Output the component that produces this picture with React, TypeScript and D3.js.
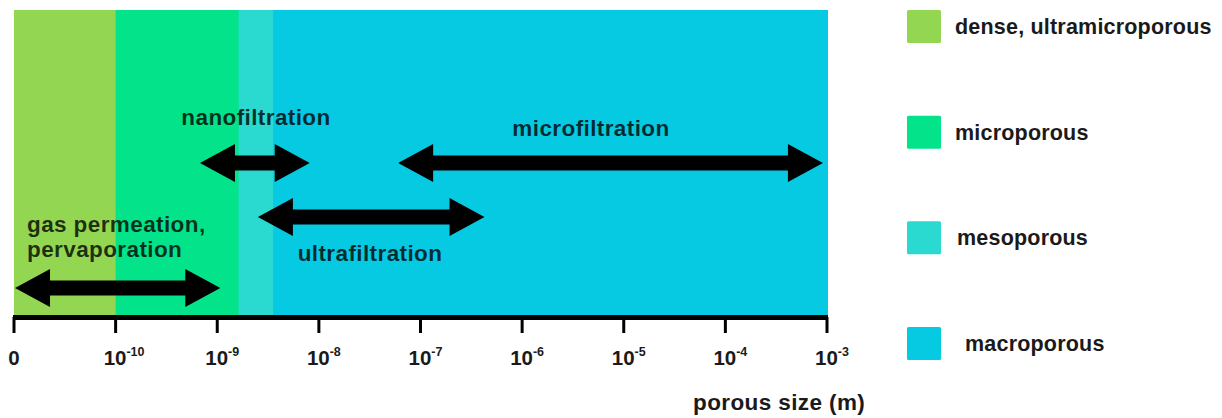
import React from "react";
import * as d3 from "d3";

// pore classes, as exponent of size in metres (-11 stands for "0")
const classNames = ["dense, ultramicroporous", "microporous", "mesoporous", "macroporous"];
const classStart = [-11, -10, -8.79, -8.45];
const classEnd = [-10, -8.79, -8.45, -3];
const classColors = ["#93d651", "#02e38a", "#2ad9cf", "#06c9e2"];

// separation processes
const processNames = ["gas permeation,|pervaporation", "nanofiltration", "ultrafiltration", "microfiltration"];
const processFrom = [-10.99, -9.17, -8.6, -7.22];
const processTo = [-8.97, -8.09, -6.37, -3.04];
const processRow = [3, 1, 2, 1];

// axis ticks
const tickValues = [-11, -10, -9, -8, -7, -6, -5, -4, -3];
const tickLabels = ["0", "-10", "-9", "-8", "-7", "-6", "-5", "-4", "-3"];

const W = 1222;
const H = 418;
const plot = { left: 13, right: 828, top: 10, bottom: 315 };

const font = "'Liberation Sans', Arial, sans-serif";

function arrowPath(x0: number, x1: number, y: number) {
  const hl = 35; // head length
  const hh = 19; // head half height
  const sh = 7.5; // shaft half height
  const p = d3.path();
  p.moveTo(x0, y);
  p.lineTo(x0 + hl, y - hh);
  p.lineTo(x0 + hl, y - sh);
  p.lineTo(x1 - hl, y - sh);
  p.lineTo(x1 - hl, y - hh);
  p.lineTo(x1, y);
  p.lineTo(x1 - hl, y + hh);
  p.lineTo(x1 - hl, y + sh);
  p.lineTo(x0 + hl, y + sh);
  p.lineTo(x0 + hl, y + hh);
  p.closePath();
  return p.toString();
}

const App = () => {
  const x = d3.scaleLinear().domain([-11, -3]).range([14, 827]);
  // arrow rows
  const rowY = d3.scaleOrdinal<number, number>().domain([1, 2, 3]).range([163, 217, 288]);
  // label placement for each process
  const labelPos = [
    { x: 27, y: 232, anchor: "start" },
    { x: 256, y: 125, anchor: "middle" },
    { x: 370, y: 261, anchor: "middle" },
    { x: 591, y: 136, anchor: "middle" },
  ];
  const legendY = d3.scaleLinear().domain([0, 3]).range([10, 327]);
  const legendDx = [0, 0, 2, 10];

  return (
    <svg
      width={W}
      height={H}
      style={{ position: "absolute", left: 0, top: 0, background: "#fff" }}
      fontFamily={font}
      fontWeight="bold"
    >
      {/* pore class bands */}
      {classNames.map((n, i) => (
        <rect
          key={n}
          x={Math.max(plot.left, x(classStart[i]))}
          y={plot.top}
          width={Math.min(plot.right, x(classEnd[i]) + 1) - Math.max(plot.left, x(classStart[i]))}
          height={plot.bottom - plot.top}
          fill={classColors[i]}
        />
      ))}

      {/* process arrows */}
      {processNames.map((n, i) => (
        <path key={n} d={arrowPath(x(processFrom[i]), x(processTo[i]), rowY(processRow[i]))} fill="#000" />
      ))}
      {processNames.map((n, i) => (
        <text
          key={n}
          x={labelPos[i].x}
          y={labelPos[i].y}
          textAnchor={labelPos[i].anchor}
          fontSize={22.5}
          letterSpacing={0.4}
          fill="#000"
          fillOpacity={0.78}
        >
          {n.split("|").map((s, j) => (
            <tspan key={j} x={labelPos[i].x} dy={j === 0 ? 0 : 25}>
              {s}
            </tspan>
          ))}
        </text>
      ))}

      {/* axis */}
      <line x1={plot.left} x2={plot.right} y1={317.5} y2={317.5} stroke="#000" strokeWidth={5} />
      {tickValues.map((t) => (
        <line key={t} x1={x(t)} x2={x(t)} y1={317} y2={333} stroke="#000" strokeWidth={3} />
      ))}
      {tickValues.map((t, i) =>
        i === 0 ? (
          <text key={t} x={x(t)} y={365} textAnchor="middle" fontSize={20.5} fill="#1a1a1a">
            {tickLabels[i]}
          </text>
        ) : (
          <text key={t} x={x(t) - 12} y={365} fontSize={20.5} fill="#1a1a1a">
            10
            <tspan dy={-9} fontSize={12.5}>
              {tickLabels[i]}
            </tspan>
          </text>
        )
      )}
      <text x={693} y={410} fontSize={22.5} letterSpacing={0.4} fill="#1a1a1a">
        porous size (m)
      </text>

      {/* legend */}
      {classNames.map((n, i) => (
        <g key={n} transform={`translate(907,${legendY(i)})`}>
          <rect width={34} height={33} rx={1.5} fill={classColors[i]} />
          <text x={48 + legendDx[i]} y={24} fontSize={21.5} letterSpacing={0.2} fill="#1a1a1a">
            {n}
          </text>
        </g>
      ))}
    </svg>
  );
};

export default App;
